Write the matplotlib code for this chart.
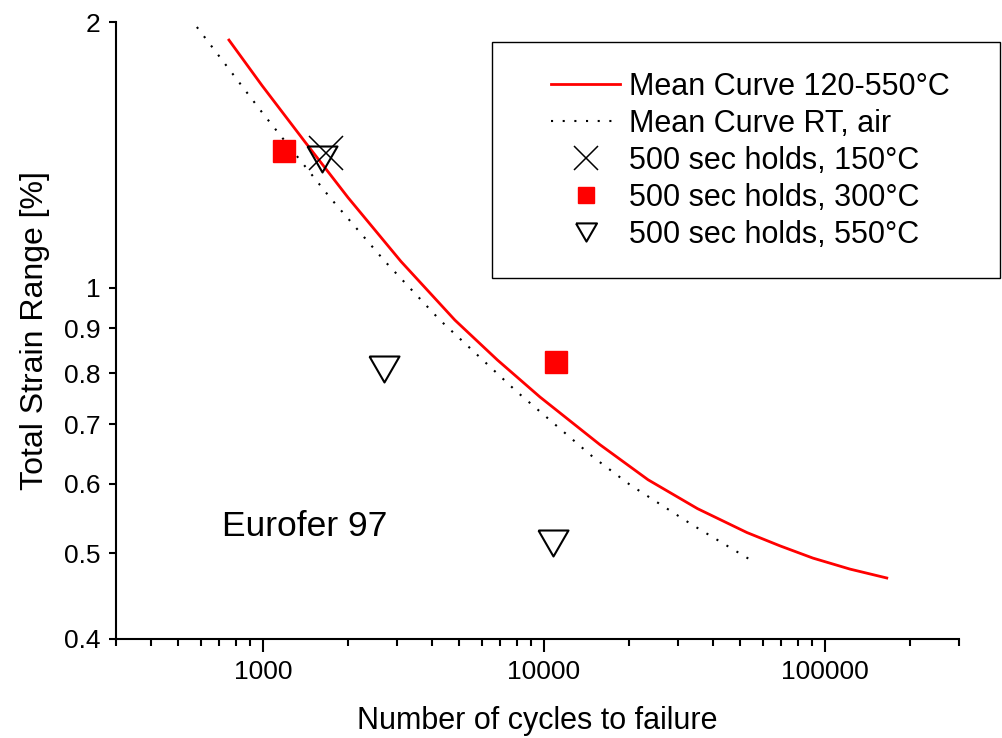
"""Eurofer 97 strain-life plot: mean curves plus 500 s hold-time tests."""
import matplotlib
matplotlib.use("Agg")
import matplotlib.pyplot as plt
from matplotlib.patches import Rectangle
from matplotlib.ticker import FixedLocator, LogLocator, NullFormatter, NullLocator

plt.rcParams["font.family"] = ["Liberation Sans", "DejaVu Sans"]

# mean curve 120-550 C
mean_hot_n = [757, 992, 1411, 2009, 3099, 4822, 6836, 9680, 15830, 23470,
              35200, 52800, 69200, 90600, 122800, 166000]
mean_hot_eps = [1.908, 1.695, 1.463, 1.265, 1.071, 0.919, 0.828, 0.752, 0.664,
                0.606, 0.562, 0.528, 0.510, 0.494, 0.480, 0.469]

# mean curve RT, air
mean_rt_n = [582, 1005, 1733, 2719, 4266, 7987, 14950, 20250, 33640, 55930]
mean_rt_eps = [1.974, 1.572, 1.265, 1.071, 0.919, 0.763, 0.643, 0.598, 0.539, 0.489]

# 500 sec hold tests
hold150_n = [1672]
hold150_eps = [1.420]
hold300_n = [1184, 11080]
hold300_eps = [1.427, 0.824]
hold550_n = [1622, 2697, 10730]
hold550_eps = [1.400, 0.810, 0.514]

y_ticks = [0.4, 0.5, 0.6, 0.7, 0.8, 0.9, 1, 2]
y_tick_labels = ["0.4", "0.5", "0.6", "0.7", "0.8", "0.9", "1", "2"]
x_ticks = [1000, 10000, 100000]
x_tick_labels = ["1000", "10000", "100000"]

W, H = 1002, 738
fig = plt.figure(figsize=(W / 100, H / 100), dpi=100)
ax = fig.add_axes([116 / W, 1 - 639 / H, (959 - 116) / W, (639 - 22) / H])

ax.plot(mean_hot_n, mean_hot_eps, color="red", lw=2.0,
        label="Mean Curve 120-550°C")
ax.plot(mean_rt_n, mean_rt_eps, color="black", lw=1.5, ls=(0, (1, 4.6)),
        label="Mean Curve RT, air")
ax.plot(hold150_n, hold150_eps, ls="none", marker="x", ms=24, mew=1.1,
        color="black", label="500 sec holds, 150°C")
ax.plot(hold300_n, hold300_eps, ls="none", marker="s", ms=16.5,
        color="red", mec="red", label="500 sec holds, 300°C")
tri = [(-1, 0.866), (1, 0.866), (0, -0.866), (-1, 0.866)]
ax.plot(hold550_n, hold550_eps, ls="none", marker=tri, ms=21.6, mew=1.5,
        mfc="none", mec="black", label="500 sec holds, 550°C")

ax.text(715, 0.536, "Eurofer 97", fontsize=25.5, ha="left", va="center")

ax.set_xscale("log")
ax.set_yscale("log")
ax.set_xlim(300, 300000)
ax.set_ylim(0.4, 2)

ax.xaxis.set_major_locator(FixedLocator(x_ticks))
ax.set_xticklabels(x_tick_labels)
ax.xaxis.set_minor_locator(LogLocator(base=10, subs=range(2, 10)))
ax.xaxis.set_minor_formatter(NullFormatter())
ax.yaxis.set_major_locator(FixedLocator(y_ticks))
ax.set_yticklabels(y_tick_labels)
ax.yaxis.set_minor_locator(NullLocator())

ax.tick_params(axis="x", which="major", length=9, width=1.5, labelsize=19, pad=6)
ax.tick_params(axis="x", which="minor", length=5, width=1.5)
ax.tick_params(axis="y", which="major", length=5, width=1.5, labelsize=19, pad=6)

for side in ("top", "right"):
    ax.spines[side].set_visible(False)
for side in ("left", "bottom"):
    ax.spines[side].set_linewidth(1.5)

ax.set_xlabel("Number of cycles to failure", fontsize=22, labelpad=16)
ax.set_ylabel("Total Strain Range [%]", fontsize=23, labelpad=10)

# legend box reaches past the axes, draw the frame separately
fig.patches.append(Rectangle((492 / W, 1 - 278 / H), (1000 - 492) / W, (278 - 42) / H,
                             transform=fig.transFigure, fill=False,
                             edgecolor="black", lw=1.0))
leg = fig.legend(loc="upper left", bbox_to_anchor=(551 / W, 1 - 72 / H),
                 frameon=False, fontsize=22, borderpad=0, borderaxespad=0,
                 handlelength=2.26, handletextpad=0.3, labelspacing=0.23,
                 markerscale=0.7)

fig.savefig("out.png", dpi=100)
